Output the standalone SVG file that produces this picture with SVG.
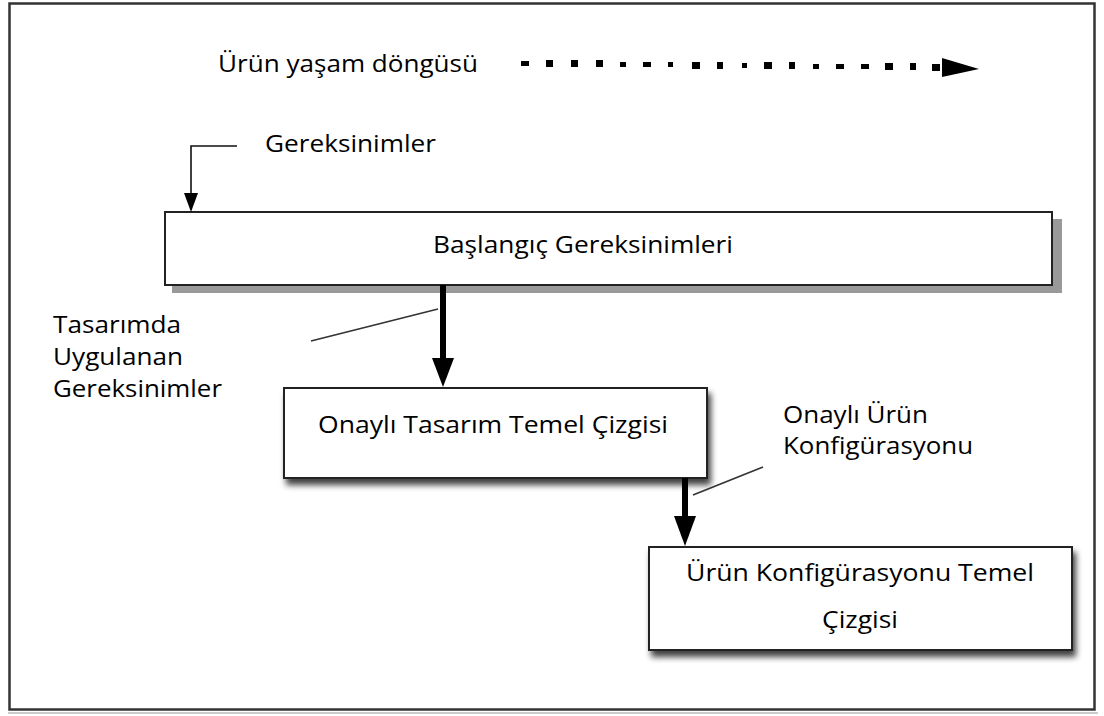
<svg xmlns="http://www.w3.org/2000/svg" width="1104" height="716" viewBox="0 0 1104 716">
  <style>
    text { font-family: "Open Sans", "Noto Sans", "DejaVu Sans", sans-serif; font-size: 23px; fill: #000; }
    .box { fill: #fff; stroke: #222; stroke-width: 2; }
    .leader { stroke: #333; stroke-width: 1.6; fill: none; }
    .thin { stroke: #111; stroke-width: 1.6; fill: none; }
    .shaft { stroke: #000; stroke-width: 6; fill: none; }
    .head { fill: #000; }
    .dot { fill: #000; }
  </style>
  <defs>
    <filter id="softShadow" x="-10%" y="-20%" width="130%" height="150%">
      <feGaussianBlur in="SourceAlpha" stdDeviation="3"/>
      <feOffset dx="3" dy="6" result="b"/>
      <feComponentTransfer><feFuncA type="linear" slope="0.75"/></feComponentTransfer>
      <feMerge><feMergeNode/><feMergeNode in="SourceGraphic"/></feMerge>
    </filter>
  </defs>

  <rect width="1104" height="716" fill="#fff"/>
  <!-- outer frame -->
  <rect x="9.5" y="3.5" width="1085" height="706" fill="none" stroke="#333" stroke-width="2.5"/>
  <line x1="8" y1="713" x2="1098" y2="713" stroke="#bbb" stroke-width="1.5"/>

  <!-- product life cycle legend -->
  <g id="lifecycle">
    <text x="218" y="72" textLength="260" lengthAdjust="spacingAndGlyphs">Ürün yaşam döngüsü</text>
    <g>
      <rect class="dot" x="521" y="61" width="8" height="5"/>
      <rect class="dot" x="546" y="60" width="7" height="7"/>
      <rect class="dot" x="571" y="60" width="7" height="7"/>
      <rect class="dot" x="596" y="60" width="7" height="7"/>
      <rect class="dot" x="620" y="62" width="6" height="5"/>
      <rect class="dot" x="643" y="62" width="8" height="5"/>
      <rect class="dot" x="668" y="62" width="5" height="5"/>
      <rect class="dot" x="692" y="62" width="8" height="7"/>
      <rect class="dot" x="717" y="62" width="6" height="7"/>
      <rect class="dot" x="742" y="63" width="5" height="5"/>
      <rect class="dot" x="764" y="62" width="8" height="7"/>
      <rect class="dot" x="789" y="62" width="6" height="7"/>
      <rect class="dot" x="813" y="64" width="6" height="5"/>
      <rect class="dot" x="836" y="64" width="8" height="5"/>
      <rect class="dot" x="861" y="64" width="8" height="5"/>
      <rect class="dot" x="885" y="63" width="8" height="7"/>
      <rect class="dot" x="910" y="63" width="6" height="7"/>
      <rect class="dot" x="932" y="64" width="8" height="7"/>
      <polygon class="head" points="942,58 979,69 942,77"/>
    </g>
  </g>

  <!-- nodes -->
  <g id="baslangic">
    <rect x="172" y="219" width="890" height="74" fill="#999"/>
    <rect class="box" x="165" y="212" width="887" height="73"/>
    <text x="583" y="253" text-anchor="middle" textLength="300" lengthAdjust="spacingAndGlyphs">Başlangıç Gereksinimleri</text>
  </g>

  <g id="onayli-tasarim">
    <rect class="box" x="284" y="388" width="423" height="90" filter="url(#softShadow)"/>
    <text x="493" y="433" text-anchor="middle" textLength="350" lengthAdjust="spacingAndGlyphs">Onaylı Tasarım Temel Çizgisi</text>
  </g>

  <g id="urun-konfigurasyonu">
    <rect class="box" x="649" y="547" width="423" height="103" filter="url(#softShadow)"/>
    <text x="860" y="581" text-anchor="middle" textLength="348" lengthAdjust="spacingAndGlyphs">Ürün Konfigürasyonu Temel</text>
    <text x="860" y="628" text-anchor="middle" textLength="76" lengthAdjust="spacingAndGlyphs">Çizgisi</text>
  </g>

  <!-- labels -->
  <g id="label-gereksinimler">
    <text x="265" y="152" textLength="171" lengthAdjust="spacingAndGlyphs">Gereksinimler</text>
  </g>
  <g id="label-tasarimda">
    <text x="53" y="333" textLength="128" lengthAdjust="spacingAndGlyphs">Tasarımda</text>
    <text x="53" y="365" textLength="130" lengthAdjust="spacingAndGlyphs">Uygulanan</text>
    <text x="53" y="397" textLength="169" lengthAdjust="spacingAndGlyphs">Gereksinimler</text>
  </g>
  <g id="label-onayli-urun">
    <text x="783" y="423" textLength="145" lengthAdjust="spacingAndGlyphs">Onaylı Ürün</text>
    <text x="783" y="454" textLength="190" lengthAdjust="spacingAndGlyphs">Konfigürasyonu</text>
  </g>

  <!-- connectors -->
  <g id="connectors">
    <polyline class="thin" points="237,146 191,146 191,196"/>
    <polygon class="head" points="184,193 198,193 191,212"/>

    <line class="shaft" x1="443" y1="285" x2="443" y2="360"/>
    <polygon class="head" points="432,358 454,358 443,387"/>
    <line class="leader" x1="311" y1="341" x2="438" y2="309"/>

    <line class="shaft" x1="685" y1="478" x2="685" y2="518"/>
    <polygon class="head" points="674,516 696,516 685,546"/>
    <line class="leader" x1="693" y1="495" x2="763" y2="467"/>
  </g>
</svg>
